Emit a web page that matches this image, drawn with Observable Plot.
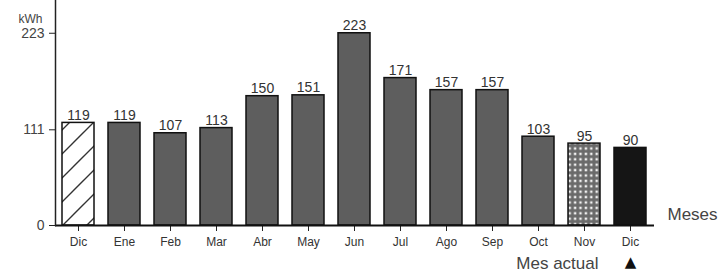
<!DOCTYPE html>
<html>
<head>
<meta charset="utf-8">
<script src="https://cdn.jsdelivr.net/npm/d3@7"></script>
<script src="https://cdn.jsdelivr.net/npm/@observablehq/plot@0.6"></script>
<style>
  html, body { margin: 0; padding: 0; background: #fff; }
  #chart svg { display: block; }
</style>
</head>
<body>
<div id="chart"></div>
<script>
const months = ["Dic","Ene","Feb","Mar","Abr","May","Jun","Jul","Ago","Sep","Oct","Nov","Dic"];
const values = [119,119,107,113,150,151,223,171,157,157,103,95,90];
const barKind = ["anterior","normal","normal","normal","normal","normal","normal","normal","normal","normal","normal","estimado","actual"];
const yTicks = [0,111,223];
const unitLabel = "kWh";
const xAxisTitle = "Meses";
const currentLabel = "Mes actual";

const kindFill = {anterior: "url(#hatch)", normal: "#5e5e5e", estimado: "url(#dots)", actual: "#151515"};
const data = values.map((v, i) => ({i, month: months[i], value: v, kind: barKind[i]}));

const sans = "'Liberation Sans', Arial, sans-serif";

const chart = Plot.plot({
  width: 721,
  height: 273,
  marginLeft: 55,
  marginRight: 67,
  marginTop: 0,
  marginBottom: 48,
  style: {background: "#fff", color: "#333"},
  x: {type: "band", domain: d3.range(months.length), paddingInner: 0.3, paddingOuter: 0.13, axis: null},
  y: {domain: [0, 261], axis: null},
  color: {type: "identity"},
  marks: [
    Plot.barY(data, {x: "i", y: "value", fill: d => kindFill[d.kind], stroke: "#111", strokeWidth: 1.5}),
    Plot.text(data, {x: "i", y: "value", text: d => String(d.value), lineAnchor: "bottom", dy: -3, fontSize: 14, fill: "#333", fontFamily: sans}),
    Plot.axisX({tickFormat: i => months[i], label: null, tickSize: 6, tickPadding: 6, fontSize: 12, fontFamily: sans, stroke: "#222", fill: "#333"}),
    Plot.axisY({ticks: yTicks, tickSize: 6, tickPadding: 5, fontSize: 14, fontFamily: sans, stroke: "#222", fill: "#444", label: null}),
    Plot.ruleY([0], {stroke: "#111", strokeWidth: 2}),
    Plot.frame({anchor: "left", stroke: "#222", strokeWidth: 1.5}),
    Plot.text([unitLabel], {frameAnchor: "top-left", text: d => d, dx: -13, dy: 14, textAnchor: "end", fontSize: 12, fill: "#444", fontFamily: sans}),
    Plot.text([xAxisTitle], {frameAnchor: "bottom-right", text: d => d, dx: 13, dy: -6, textAnchor: "start", fontSize: 17, fill: "#444", fontFamily: sans}),
    Plot.text([12], {x: d => d, frameAnchor: "bottom", text: () => currentLabel, dx: -32, dy: 38, textAnchor: "end", lineAnchor: "middle", fontSize: 17, fill: "#444", fontFamily: sans}),
    Plot.text([12], {x: d => d, frameAnchor: "bottom", text: () => "▲", dy: 37, lineAnchor: "middle", fontSize: 15, fill: "#111", fontFamily: "DejaVu Sans"})
  ]
});

const defs = d3.select(chart).insert("defs", ":first-child");
const hatch = defs.append("pattern").attr("id", "hatch").attr("patternUnits", "userSpaceOnUse").attr("width", 24).attr("height", 24);
hatch.append("rect").attr("width", 24).attr("height", 24).attr("fill", "#fff");
hatch.append("path").attr("d", "M-6,30 L30,-6 M-6,6 L6,-6 M18,30 L30,18").attr("stroke", "#333").attr("stroke-width", 1.4);
const dots = defs.append("pattern").attr("id", "dots").attr("patternUnits", "userSpaceOnUse").attr("width", 5.4).attr("height", 5.4);
dots.append("rect").attr("width", 5.4).attr("height", 5.4).attr("fill", "#6a6a6a");
dots.append("rect").attr("x", 1.5).attr("y", 1.5).attr("width", 2.4).attr("height", 2.4).attr("fill", "#f2f2f2");

document.getElementById("chart").append(chart);
</script>
</body>
</html>
